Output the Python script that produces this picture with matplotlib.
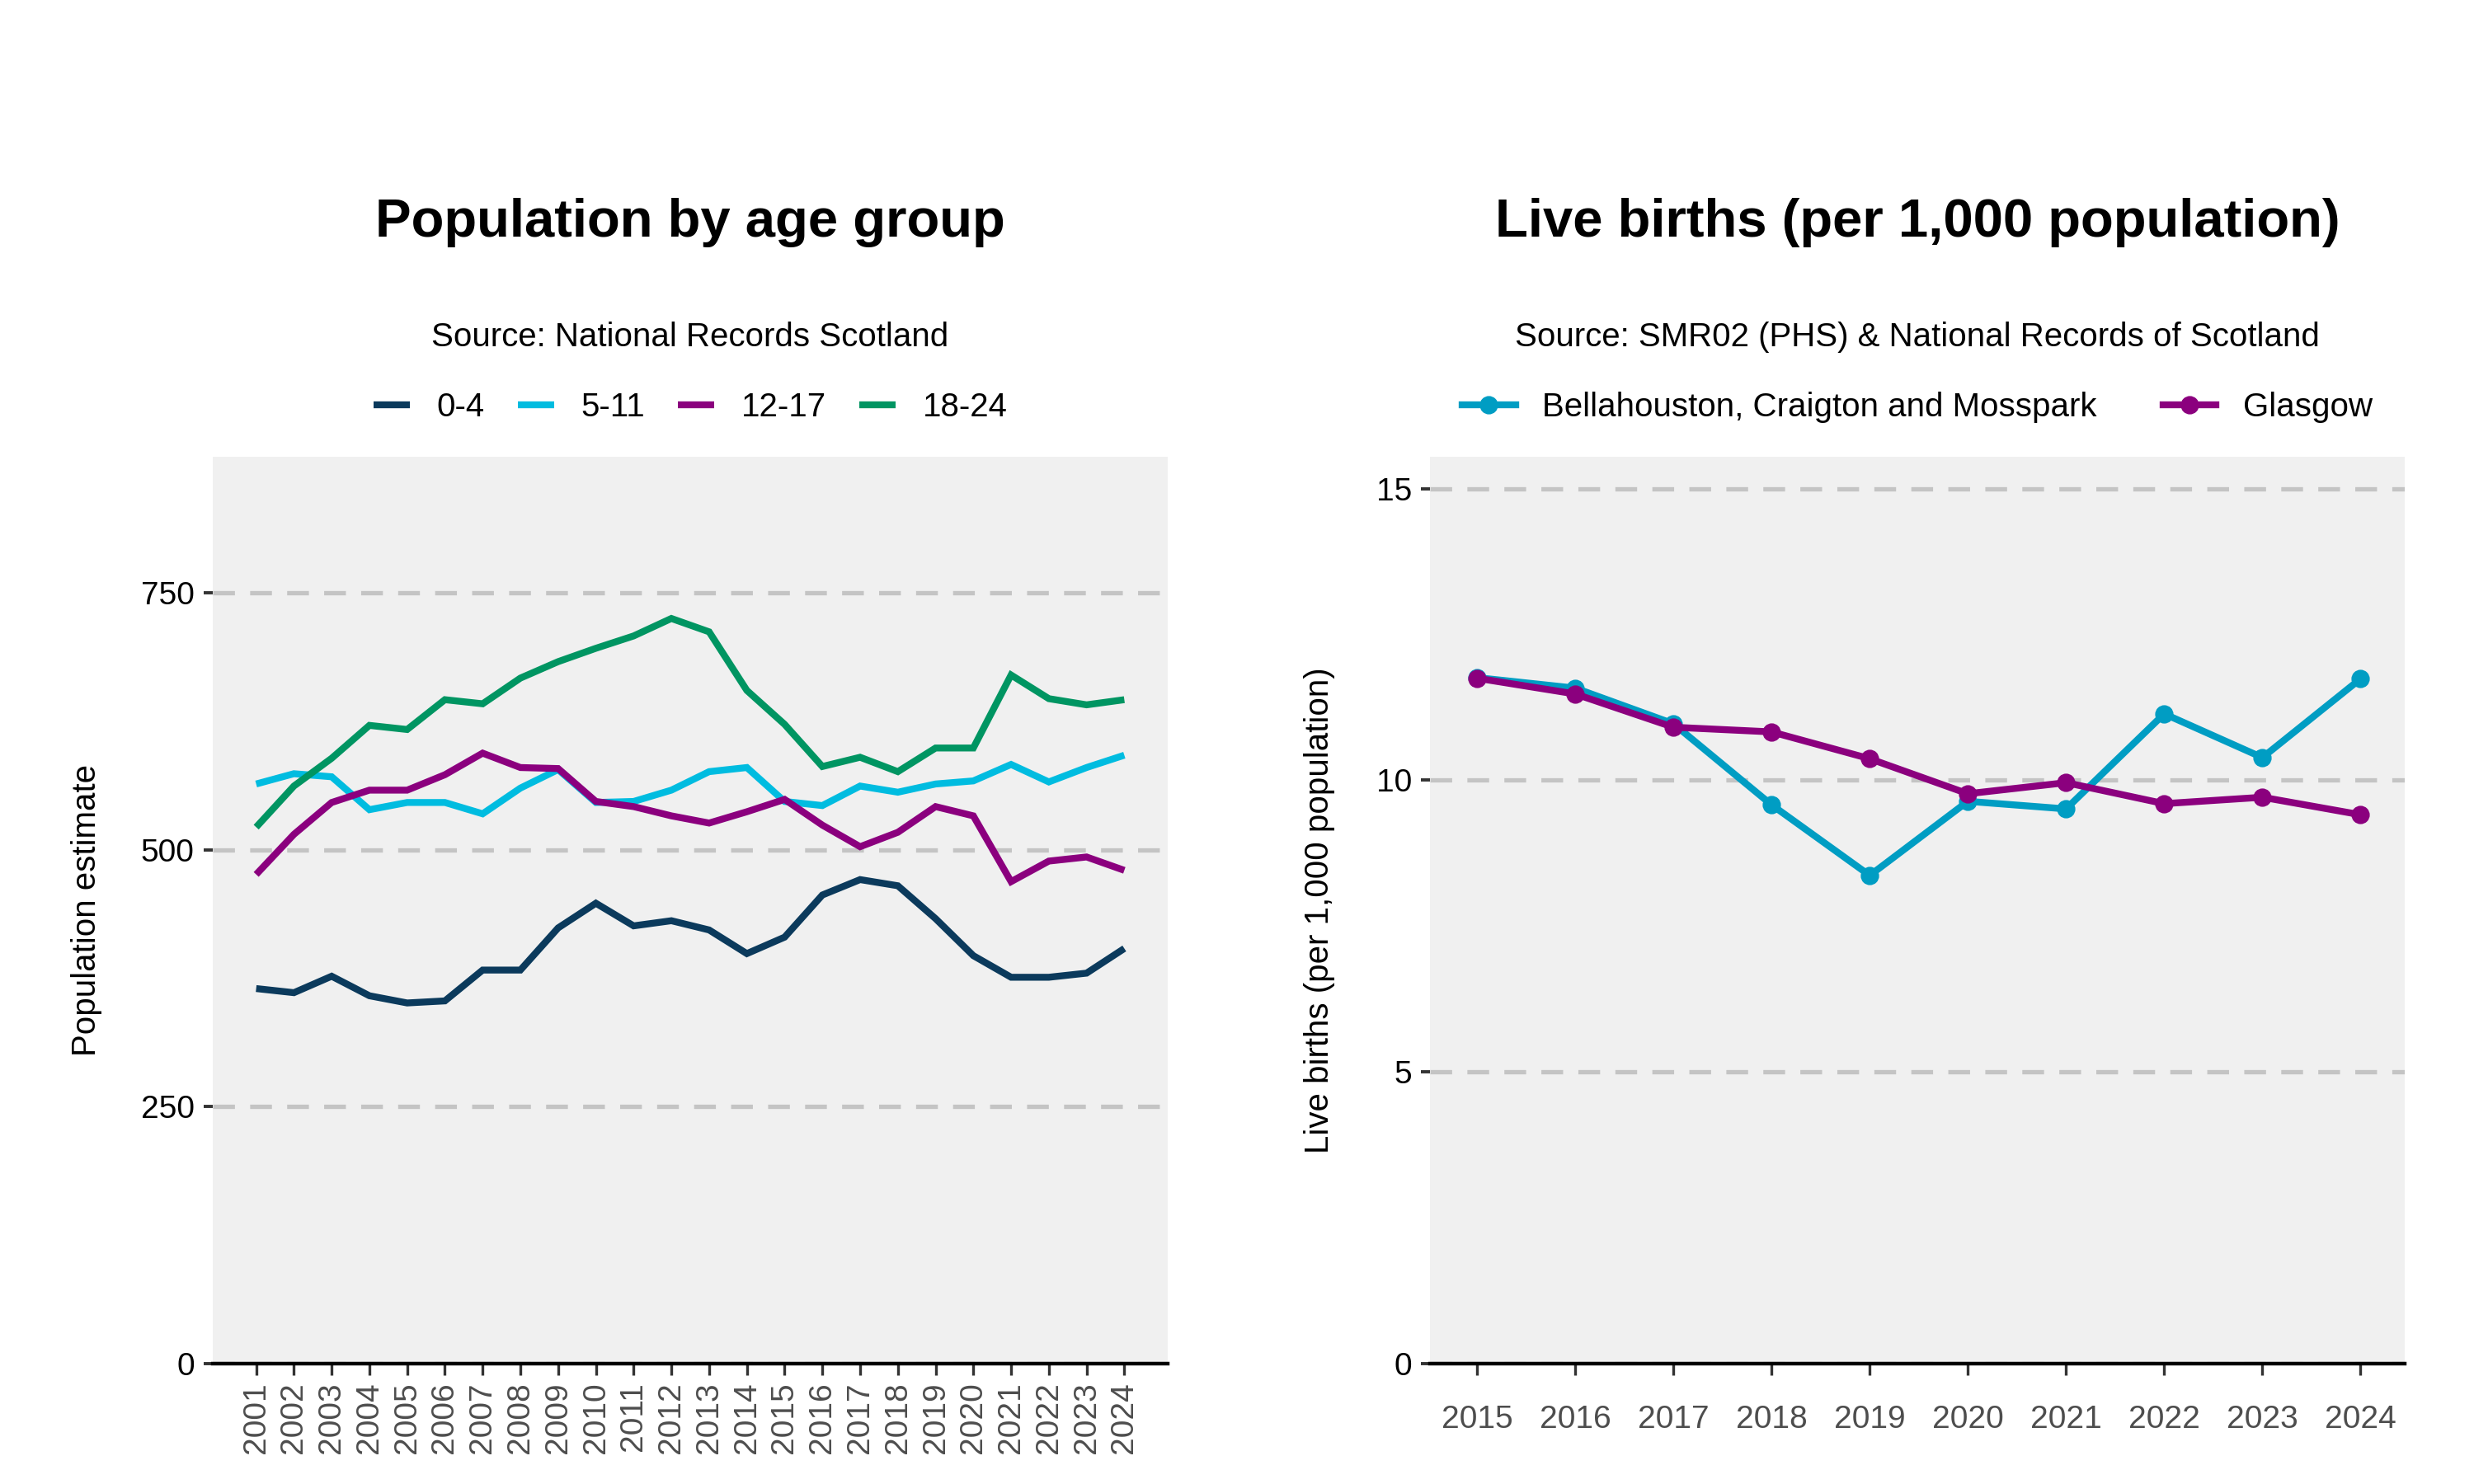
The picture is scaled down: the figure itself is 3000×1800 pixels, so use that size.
import matplotlib
matplotlib.use("Agg")
import matplotlib.pyplot as plt

plt.rcParams['font.family'] = ['Liberation Sans', 'DejaVu Sans']

# Population by age group (left panel)
years_pop = list(range(2001, 2025))
age_0_4 = [365, 361, 377, 358, 351, 353, 383, 383, 424, 448, 426, 431,
           422, 399, 415, 456, 471, 465, 433, 397, 376, 376, 380, 404]
age_5_11 = [564, 574, 571, 539, 546, 546, 535, 560, 578, 546, 547, 558,
            576, 580, 547, 543, 562, 556, 564, 567, 583, 566, 580, 592]
age_12_17 = [476, 515, 546, 558, 558, 573, 594, 580, 579, 547, 542, 533,
             526, 537, 549, 524, 503, 517, 542, 533, 469, 489, 493, 480]
age_18_24 = [522, 562, 589, 621, 617, 646, 642, 667, 683, 696, 708, 725,
             712, 655, 622, 581, 590, 576, 599, 599, 670, 647, 641, 646]
age_labels = ['0-4', '5-11', '12-17', '18-24']
age_colors = ['#0b3a5c', '#00bce0', '#8b007e', '#009562']

# Live births (right panel)
years_births = list(range(2015, 2025))
bellahouston = [11.76, 11.58, 10.97, 9.58, 8.37, 9.64, 9.51, 11.14, 10.39, 11.74]
glasgow = [11.75, 11.48, 10.91, 10.83, 10.37, 9.77, 9.96, 9.6, 9.71, 9.41]
area_labels = ['Bellahouston, Craigton and Mosspark', 'Glasgow']
area_colors = ['#009dc3', '#8b007e']

fig = plt.figure(figsize=(15, 9), dpi=200)
ax1 = fig.add_axes([0.086, 0.081, 0.386, 0.611])
ax2 = fig.add_axes([0.578, 0.081, 0.394, 0.611])


def style_axes(ax):
    ax.set_facecolor('#f0f0f0')
    for side in ['top', 'right', 'left']:
        ax.spines[side].set_visible(False)
    ax.spines['bottom'].set_color('black')
    ax.spines['bottom'].set_linewidth(1.6)
    ax.yaxis.grid(True, color='#c4c4c4', linestyle=(0, (5, 3.5)), linewidth=1.9)
    ax.xaxis.grid(False)
    ax.set_axisbelow(True)
    ax.tick_params(axis='y', length=4, width=1.4, color='#333333',
                   labelsize=14, labelcolor='black', pad=4)
    ax.tick_params(axis='x', length=5, width=1.2, color='#333333',
                   labelsize=14, labelcolor='#4d4d4d')


# left panel
for vals, lab, col in zip([age_0_4, age_5_11, age_12_17, age_18_24],
                          age_labels, age_colors):
    ax1.plot(years_pop, vals, color=col, lw=3.0, label=lab,
             solid_capstyle='butt', solid_joinstyle='miter')
style_axes(ax1)
ax1.set_xlim(2001 - 1.15, 2024 + 1.15)
ax1.set_ylim(0, 882)
ax1.set_yticks([0, 250, 500, 750])
ax1.set_xticks(years_pop)
ax1.set_xticklabels([str(y) for y in years_pop], rotation=90)
ax1.tick_params(axis='x', pad=3)
ax1.set_ylabel('Population estimate', fontsize=14.5, labelpad=17)
fig.text(0.279, 0.85, 'Population by age group', ha='center', va='center',
         fontsize=23.5, fontweight='bold')
fig.text(0.279, 0.773, 'Source: National Records Scotland', ha='center',
         va='center', fontsize=14.5)
ax1.legend(loc='center', bbox_to_anchor=(0.5, 1.055), ncol=4, frameon=False,
           fontsize=14.5, handlelength=1.1, columnspacing=1.0,
           handletextpad=0.8)

# right panel
for vals, lab, col in zip([bellahouston, glasgow], area_labels, area_colors):
    ax2.plot(years_births, vals, color=col, lw=3.0, marker='o',
             markersize=7, label=lab)
style_axes(ax2)
ax2.set_xlim(2015 - 0.48, 2024 + 0.45)
ax2.set_ylim(0, 15.54)
ax2.set_yticks([0, 5, 10, 15])
ax2.set_xticks(years_births)
ax2.tick_params(axis='x', pad=13)
ax2.set_ylabel('Live births (per 1,000 population)', fontsize=14.5, labelpad=18)
fig.text(0.775, 0.85, 'Live births (per 1,000 population)', ha='center',
         va='center', fontsize=23.5, fontweight='bold')
fig.text(0.775, 0.773, 'Source: SMR02 (PHS) & National Records of Scotland',
         ha='center', va='center', fontsize=14.5)
ax2.legend(loc='center', bbox_to_anchor=(0.5, 1.055), ncol=2, frameon=False,
           fontsize=14.5, handlelength=1.6, columnspacing=2.0,
           handletextpad=0.8)

fig.savefig('out.png', dpi=200)
